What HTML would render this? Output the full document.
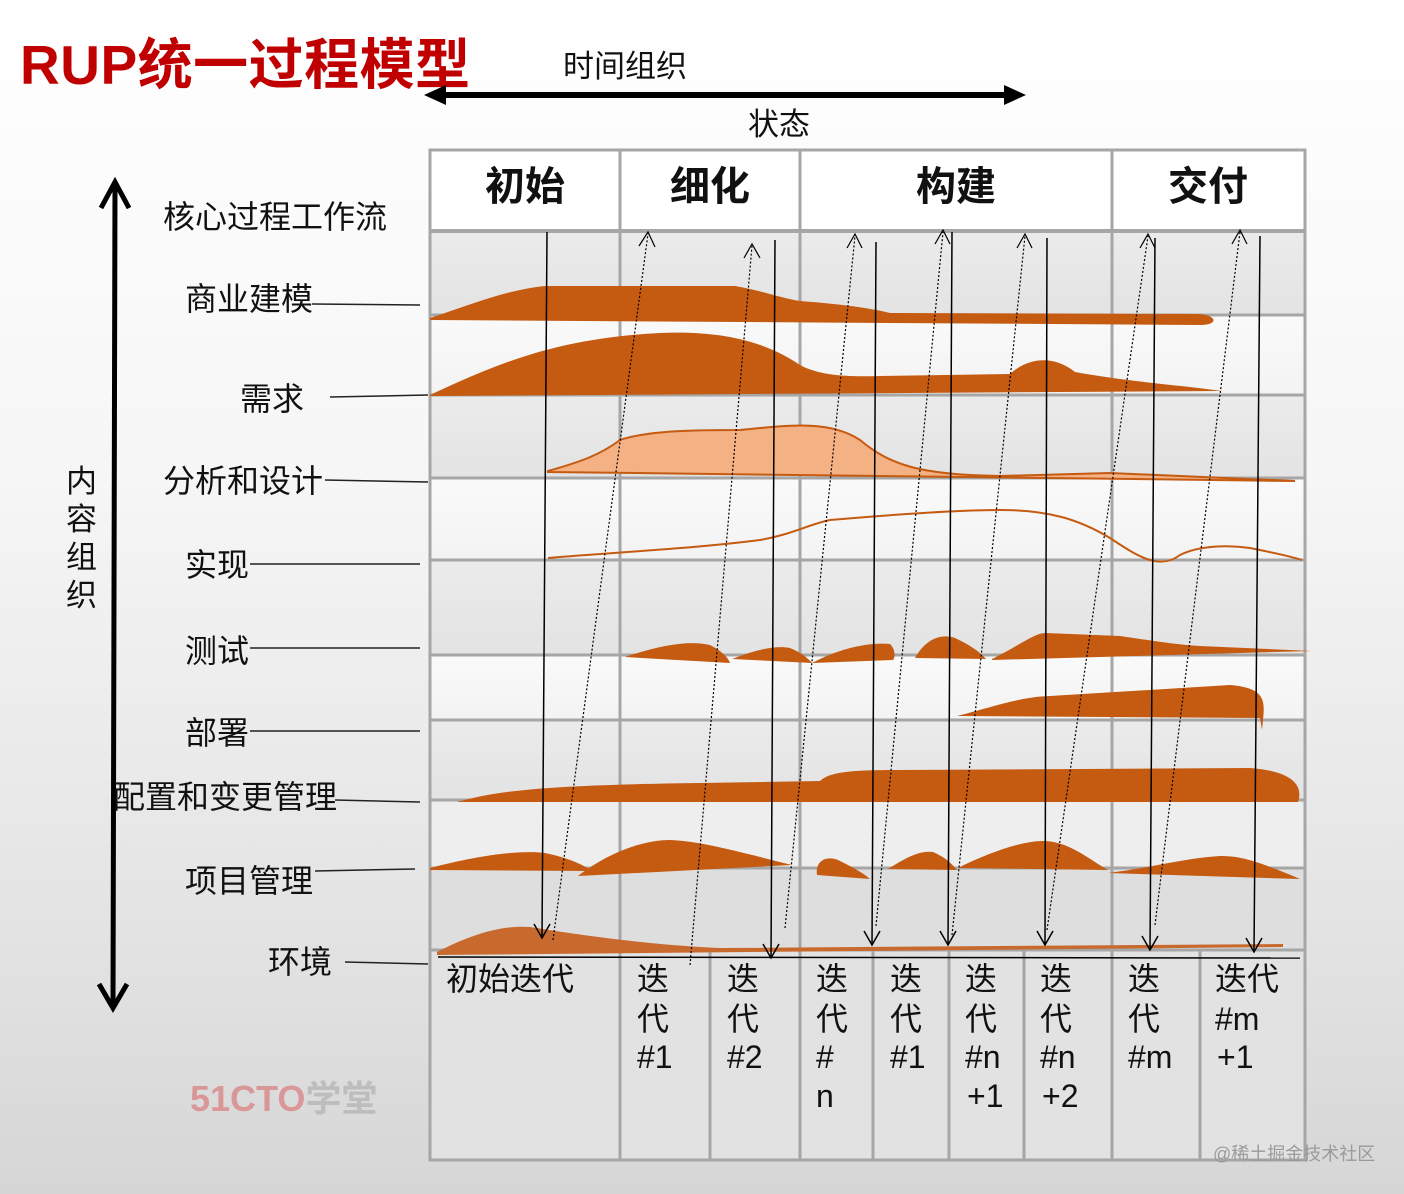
<!DOCTYPE html>
<html><head><meta charset="utf-8"><style>
html,body{margin:0;padding:0}
body{width:1404px;height:1194px;overflow:hidden;background:linear-gradient(#ffffff 0%,#f6f6f6 40%,#e2e2e2 80%,#d6d6d6 100%);font-family:"Liberation Sans","Noto Sans CJK SC",sans-serif}
svg{position:absolute;left:0;top:0}
text{font-family:"Liberation Sans","Noto Sans CJK SC",sans-serif}
</style></head><body>
<svg width="1404" height="1194" viewBox="0 0 1404 1194">
<defs>
<linearGradient id="g1" x1="0" y1="0" x2="0" y2="1"><stop offset="0" stop-color="#ebebeb"/><stop offset="1" stop-color="#e3e3e3"/></linearGradient>
<linearGradient id="g2" x1="0" y1="0" x2="0" y2="1"><stop offset="0" stop-color="#fafafa"/><stop offset="1" stop-color="#f3f3f3"/></linearGradient>
</defs>
<text x="20" y="84" font-size="55" font-weight="bold" fill="#c00000" letter-spacing="0.5">RUP统一过程模型</text>
<text x="563" y="77" font-size="31" fill="#111">时间组织</text>
<g>
<line x1="440" y1="95" x2="1010" y2="95" stroke="#000" stroke-width="6"/>
<polygon points="424,95 446,85 446,105" fill="#000"/><polygon points="1026,95 1004,85 1004,105" fill="#000"/>
</g>
<text x="748" y="135" font-size="31" fill="#111">状态</text>
<g stroke="#000" stroke-width="5" fill="none">
<line x1="115" y1="184" x2="113" y2="1006"/>
<polyline points="101,208 115,182 129,208"/><polyline points="99,984 113,1008 127,984"/>
</g>
<g font-size="31" fill="#111">
<text x="66" y="492">内</text><text x="66" y="530">容</text><text x="66" y="568">组</text><text x="66" y="606">织</text>
</g>
<g>
<rect x="430" y="150" width="875" height="80" fill="#ffffff"/>
<rect x="430" y="232" width="875" height="83" fill="url(#g1)"/>
<rect x="430" y="315" width="875" height="80" fill="url(#g2)"/>
<rect x="430" y="395" width="875" height="83" fill="url(#g1)"/>
<rect x="430" y="478" width="875" height="82" fill="url(#g2)"/>
<rect x="430" y="560" width="875" height="95" fill="url(#g1)"/>
<rect x="430" y="655" width="875" height="65" fill="url(#g2)"/>
<rect x="430" y="720" width="875" height="80" fill="url(#g1)"/>
<rect x="430" y="800" width="875" height="68" fill="#eeeeee"/>
<rect x="430" y="868" width="875" height="82" fill="#dedede"/>
<rect x="430" y="950" width="875" height="210" fill="#e2e2e2"/>
</g>
<g stroke="#a6a6a6" stroke-width="3" fill="none">
<rect x="430" y="150" width="875" height="1010"/>
<line x1="430" y1="231" x2="1305" y2="231" stroke-width="4"/>
<line x1="430" y1="315" x2="1305" y2="315"/><line x1="430" y1="395" x2="1305" y2="395"/>
<line x1="430" y1="478" x2="1305" y2="478"/><line x1="430" y1="560" x2="1305" y2="560"/>
<line x1="430" y1="655" x2="1305" y2="655"/><line x1="430" y1="720" x2="1305" y2="720"/>
<line x1="430" y1="800" x2="1305" y2="800"/><line x1="430" y1="868" x2="1305" y2="868"/>
<line x1="430" y1="950" x2="1305" y2="950"/>
<line x1="620" y1="150" x2="620" y2="1160"/><line x1="800" y1="150" x2="800" y2="1160"/>
<line x1="1112" y1="150" x2="1112" y2="1160"/>
<line x1="710" y1="950" x2="710" y2="1160"/><line x1="873" y1="950" x2="873" y2="1160"/>
<line x1="949" y1="950" x2="949" y2="1160"/><line x1="1024" y1="950" x2="1024" y2="1160"/>
<line x1="1200" y1="950" x2="1200" y2="1160"/>
</g>
<g font-size="40" font-weight="bold" fill="#111" text-anchor="middle">
<text x="525" y="200">初始</text><text x="710" y="200">细化</text><text x="956" y="200">构建</text><text x="1208" y="200">交付</text>
</g>
<g fill="#c55a11">
<path d="M430,318 C470,305 505,290 545,286 L735,286 C760,290 780,298 800,301 C840,304 870,308 890,313 L1200,314 C1218,316 1218,325 1200,325 L430,320 Z"/>
<path d="M430,395 C500,362 560,338 660,333 C730,330 770,345 800,365 C820,376 850,377 880,376 L1010,374 C1030,356 1055,356 1075,372 C1130,382 1180,385 1222,391 L430,396 Z"/>
<path d="M625,657 C660,645 690,640 710,645 C720,650 728,657 730,663 Z"/>
<path d="M732,659 C755,650 775,645 790,648 C800,652 808,658 812,663 Z"/>
<path d="M812,663 C840,648 870,642 890,644 C896,650 895,658 893,660 Z"/>
<path d="M915,658 C925,640 940,633 955,638 C970,645 980,652 986,659 Z"/>
<path d="M992,659 C1020,645 1035,633 1045,633 L1120,636 C1160,642 1180,645 1200,646 L1312,651 L992,660 Z"/>
<path d="M957,716 C1000,705 1020,697 1050,696 L1230,685 C1265,688 1265,700 1263,720 L1262,730 L1260,718 Z"/>
<path d="M457,802 C500,790 550,785 700,783 L820,781 C830,772 850,770 900,770 L1250,768 C1300,772 1302,790 1298,802 Z"/>
<path d="M430,868 C480,855 520,850 545,853 C570,858 585,866 592,871 L430,870 Z"/>
<path d="M578,876 C605,855 640,840 670,840 C700,841 740,852 792,865 L578,876 Z"/>
<path d="M817,875 C815,862 825,855 838,860 C850,866 862,872 870,879 Z"/>
<path d="M888,869 C905,858 920,850 933,852 C945,857 952,864 957,870 Z"/>
<path d="M958,868 C990,852 1025,840 1045,841 C1070,842 1090,860 1108,870 Z"/>
<path d="M1108,873 C1150,868 1185,858 1220,856 C1240,856 1255,860 1300,879 Z"/>
<path fill="#c86a2e" d="M437,952 C470,935 500,925 530,927 C580,935 650,945 720,948 L1283,944 L1283,947 L437,955 Z"/>
</g>
<path d="M548,471 C580,462 600,455 620,440 C650,430 700,430 740,430 C790,425 830,420 860,440 C890,465 920,475 1000,476 L1110,473 L1295,481 L548,472 Z" fill="#f4b183" stroke="#c55a11" stroke-width="2"/>
<path d="M548,558 C620,552 700,548 760,540 C790,535 810,524 830,520 C900,514 960,510 1000,510 C1050,510 1080,520 1110,538 C1140,558 1160,570 1180,555 C1200,545 1230,545 1250,548 C1270,552 1290,556 1302,560" fill="none" stroke="#c55a11" stroke-width="2"/>
<g stroke="#000" stroke-width="1.5" fill="none">
<line x1="547" y1="232" x2="542" y2="938"/><polyline points="534,924 542,938 550,924"/>
<line x1="775" y1="240" x2="771" y2="958"/><polyline points="763,944 771,958 779,944"/>
<line x1="876" y1="242" x2="872" y2="945"/><polyline points="864,931 872,945 880,931"/>
<line x1="952" y1="232" x2="948" y2="945"/><polyline points="940,931 948,945 956,931"/>
<line x1="1047" y1="238" x2="1045" y2="945"/><polyline points="1037,931 1045,945 1053,931"/>
<line x1="1155" y1="238" x2="1150" y2="950"/><polyline points="1142,936 1150,950 1158,936"/>
<line x1="1260" y1="236" x2="1254" y2="952"/><polyline points="1246,938 1254,952 1262,938"/>
</g>
<g stroke="#000" stroke-width="1.2" fill="none">
<line x1="553" y1="940" x2="648" y2="234" stroke-dasharray="2,2"/><polyline points="639,246 648,232 655,247"/>
<line x1="690" y1="965" x2="752" y2="246" stroke-dasharray="2,2"/><polyline points="744,258 752,244 760,258"/>
<line x1="785" y1="928" x2="855" y2="236" stroke-dasharray="2,2"/><polyline points="847,248 855,234 862,248"/>
<line x1="876" y1="926" x2="943" y2="232" stroke-dasharray="2,2"/><polyline points="935,244 943,230 950,244"/>
<line x1="952" y1="935" x2="1025" y2="236" stroke-dasharray="2,2"/><polyline points="1017,248 1025,234 1032,248"/>
<line x1="1047" y1="930" x2="1148" y2="236" stroke-dasharray="2,2"/><polyline points="1140,248 1148,234 1155,248"/>
<line x1="1155" y1="925" x2="1240" y2="232" stroke-dasharray="2,2"/><polyline points="1232,244 1240,230 1247,244"/>
</g>
<line x1="438" y1="957" x2="1300" y2="958" stroke="#000" stroke-width="1.5"/>
<g font-size="32" fill="#111">
<text x="163" y="228">核心过程工作流</text>
<text x="185" y="310">商业建模</text>
<text x="240" y="410">需求</text>
<text x="163" y="492">分析和设计</text>
<text x="185" y="576">实现</text>
<text x="185" y="662">测试</text>
<text x="185" y="744">部署</text>
<text x="113" y="808">配置和变更管理</text>
<text x="185" y="892">项目管理</text>
<text x="268" y="973">环境</text>
</g>
<g stroke="#222" stroke-width="1.5">
<line x1="312" y1="304" x2="420" y2="305"/><line x1="330" y1="397" x2="428" y2="395"/>
<line x1="325" y1="480" x2="428" y2="482"/><line x1="250" y1="564" x2="420" y2="564"/>
<line x1="250" y1="648" x2="420" y2="648"/><line x1="250" y1="731" x2="420" y2="731"/>
<line x1="335" y1="800" x2="420" y2="802"/><line x1="315" y1="871" x2="415" y2="869"/>
<line x1="345" y1="962" x2="428" y2="964"/>
</g>
<g font-size="32" fill="#111">
<text x="446" y="990">初始迭代</text>
<text x="637" y="990">迭</text><text x="637" y="1030">代</text><text x="637" y="1068">#1</text>
<text x="727" y="990">迭</text><text x="727" y="1030">代</text><text x="727" y="1068">#2</text>
<text x="816" y="990">迭</text><text x="816" y="1030">代</text><text x="816" y="1068">#</text><text x="816" y="1107">n</text>
<text x="890" y="990">迭</text><text x="890" y="1030">代</text><text x="890" y="1068">#1</text>
<text x="965" y="990">迭</text><text x="965" y="1030">代</text><text x="965" y="1068">#n</text><text x="967" y="1107">+1</text>
<text x="1040" y="990">迭</text><text x="1040" y="1030">代</text><text x="1040" y="1068">#n</text><text x="1042" y="1107">+2</text>
<text x="1128" y="990">迭</text><text x="1128" y="1030">代</text><text x="1128" y="1068">#m</text>
<text x="1215" y="990">迭代</text><text x="1215" y="1030">#m</text><text x="1217" y="1068">+1</text>
</g>
<text x="190" y="1111" font-size="36" font-weight="bold" fill="#d98c8c" opacity="0.85">51CTO<tspan fill="#b8b8b8">学堂</tspan></text>
<text x="1213" y="1160" font-size="18" fill="#9a9a9a">@稀土掘金技术社区</text>
</svg>
</body></html>
